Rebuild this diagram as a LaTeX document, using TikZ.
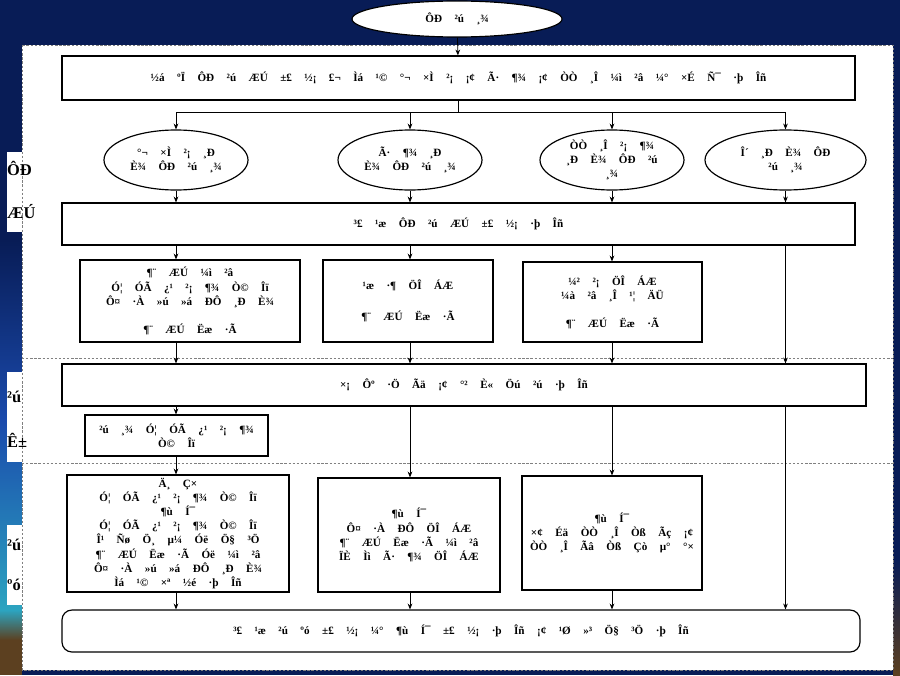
\documentclass[tikz,border=0pt]{standalone}
\usepackage{fontspec}
\setmainfont{Liberation Serif}
\usepackage{xcolor}
\usetikzlibrary{shapes.geometric}
\usetikzlibrary{arrows.meta}

\definecolor{slidenavy}{RGB}{8,28,86}
\definecolor{slideblue}{RGB}{26,74,172}
\definecolor{slideteal}{RGB}{44,164,192}
\definecolor{slidebrown}{RGB}{92,64,32}
\newcommand{\boxfont}{\fontsize{9.5}{12}\selectfont\bfseries\spaceskip=1.12em\relax}
\newcommand{\sidefont}{\fontsize{14}{16}\selectfont\bfseries}

\begin{document}
\begin{tikzpicture}[x=0.03cm,y=-0.03cm,
	box/.style={draw,line width=1pt,fill=white,inner sep=0pt,align=center,font=\boxfont},
	oval/.style={ellipse,draw,line width=1pt,fill=white,inner sep=0pt,align=center,font=\boxfont},
	arr/.style={-{Stealth[length=5pt,width=4pt]},line width=0.7pt},
	sep/.style={gray,line width=0.5pt,dash pattern=on 2pt off 1.5pt},
	side/.style={anchor=west,inner sep=0pt,font=\sidefont}]

	\useasboundingbox (0,0) rectangle (900,675);
	% slide background
	\fill[slidenavy] (0,0) rectangle (900,675);
	\shade[top color=slidenavy,bottom color=slideblue] (0,240) rectangle (22,420);
	\shade[top color=slideblue,bottom color=slideteal] (0,420) rectangle (22,610);
	\shade[top color=slideteal,bottom color=slidebrown] (0,610) rectangle (22,640);
	\fill[slidebrown] (0,640) rectangle (22,675);
	\shade[top color=slidenavy,bottom color=slidebrown] (893,560) rectangle (900,675);

	% white panel
	\draw[sep,fill=white] (22,45) rectangle (893,670);
	\draw[sep] (22,358) -- (893,358);
	\draw[sep] (22,463) -- (893,463);

	% side labels
	\fill[white] (7,152) rectangle (22,232);
	\fill[white] (7,372) rectangle (22,462);
	\fill[white] (7,525) rectangle (22,605);
	\node[side] (s1) at (7,168) {ÔÐ};
	\node[side] (s2) at (7,212) {ÆÚ};
	\node[side] (s3) at (7,397) {²ú};
	\node[side] (s4) at (7,440) {Ê±};
	\node[side] (s5) at (7,545) {²ú};
	\node[side] (s6) at (7,585) {ºó};

	% top
	\node[oval,minimum width=6.3cm,minimum height=1.08cm] (preg) at (457,19) {ÔÐ ²ú ¸¾};
	\node[box,minimum width=23.79cm,minimum height=1.32cm] (screen) at (458.5,78)
		{½á ºÏ ÔÐ ²ú ÆÚ ±£ ½¡ £¬ Ìá ¹© °¬ ×Ì ²¡ ¡¢ Ã· ¶¾ ¡¢ ÒÒ ¸Î ¼ì ²â ¼° ×É Ñ¯ ·þ Îñ};

	% pregnancy
	\node[oval,minimum width=4.32cm,minimum height=1.8cm] (hiv) at (176,160) {°¬ ×Ì ²¡ ¸Ð\\È¾ ÔÐ ²ú ¸¾};
	\node[oval,minimum width=4.32cm,minimum height=1.8cm] (syph) at (410,160) {Ã· ¶¾ ¸Ð\\È¾ ÔÐ ²ú ¸¾};
	\node[oval,minimum width=4.32cm,minimum height=1.8cm] (hbv) at (612,160) {ÒÒ ¸Î ²¡ ¶¾\\¸Ð È¾ ÔÐ ²ú\\¸¾};
	\node[oval,minimum width=4.83cm,minimum height=1.8cm] (neg) at (785.5,160) {Î´ ¸Ð È¾ ÔÐ\\²ú ¸¾};
	\node[box,minimum width=23.79cm,minimum height=1.26cm] (routine) at (458.5,224) {³£ ¹æ ÔÐ ²ú ÆÚ ±£ ½¡ ·þ Îñ};
	\node[box,minimum width=6.6cm,minimum height=2.46cm] (hivcare) at (190,301)
		{¶¨ ÆÚ ¼ì ²â\\Ó¦ ÓÃ ¿¹ ²¡ ¶¾ Ò© Îï\\Ô¤ ·À »ú »á ÐÔ ¸Ð È¾\\[12pt]¶¨ ÆÚ Ëæ ·Ã};
	\node[box,minimum width=5.1cm,minimum height=2.46cm] (syphcare) at (408,301)
		{¹æ ·¶ ÖÎ ÁÆ\\[14pt]¶¨ ÆÚ Ëæ ·Ã};
	\node[box,minimum width=5.37cm,minimum height=2.4cm] (hbvcare) at (612.5,302)
		{¼² ²¡ ÖÎ ÁÆ\\¼à ²â ¸Î ¹¦ ÄÜ\\[12pt]¶¨ ÆÚ Ëæ ·Ã};

	% delivery
	\node[box,minimum width=24.12cm,minimum height=1.26cm] (delivery) at (464,385)
		{×¡ Ôº ·Ö Ãä ¡¢ °² È« Öú ²ú ·þ Îñ};
	\node[box,minimum width=5.49cm,minimum height=1.23cm] (mumdrug) at (176.5,435.5)
		{²ú ¸¾ Ó¦ ÓÃ ¿¹ ²¡ ¶¾\\Ò© Îï};

	% after delivery
	\node[box,minimum width=6.66cm,minimum height=3.51cm] (hivpost) at (178,533.5)
		{Ä¸ Ç×\\Ó¦ ÓÃ ¿¹ ²¡ ¶¾ Ò© Îï\\¶ù Í¯\\Ó¦ ÓÃ ¿¹ ²¡ ¶¾ Ò© Îï\\Î¹ Ñø Ö¸ µ¼ Óë Ö§ ³Ö\\¶¨ ÆÚ Ëæ ·Ã Óë ¼ì ²â\\Ô¤ ·À »ú »á ÐÔ ¸Ð È¾\\Ìá ¹© ×ª ½é ·þ Îñ};
	\node[box,minimum width=5.46cm,minimum height=3.42cm] (syphpost) at (409,535)
		{¶ù Í¯\\Ô¤ ·À ÐÔ ÖÎ ÁÆ\\¶¨ ÆÚ Ëæ ·Ã ¼ì ²â\\ÏÈ Ìì Ã· ¶¾ ÖÎ ÁÆ};
	\node[box,minimum width=5.4cm,minimum height=3.42cm] (hbvpost) at (612,533)
		{¶ù Í¯\\×¢ Éä ÒÒ ¸Î Òß Ãç ¡¢\\ÒÒ ¸Î Ãâ Òß Çò µ° °×};
	\node[box,rounded corners=0.3cm,minimum width=23.94cm,minimum height=1.26cm] (postnatal) at (461,631)
		{³£ ¹æ ²ú ºó ±£ ½¡ ¼° ¶ù Í¯ ±£ ½¡ ·þ Îñ ¡¢ ¹Ø »³ Ö§ ³Ö ·þ Îñ};

	% connectors
	\draw[arr] (preg) -- (screen);
	\draw[line width=0.7pt] (screen.south) -- ++(0,12) coordinate (fork);
	\foreach \n in {hiv,syph,hbv,neg} {
		\draw[arr] (fork) -| (\n.north);
		\draw[arr] (\n.south) -- (\n.south |- routine.north);
	}
	\draw[arr] (routine.south -| hiv) -- (hivcare.north -| hiv);
	\draw[arr] (routine.south -| syph) -- (syphcare.north -| syph);
	\draw[arr] (routine.south -| hbv) -- (hbvcare.north -| hbv);
	\draw[arr] (routine.south -| neg) -- (delivery.north -| neg);
	\draw[arr] (hivcare.south -| hiv) -- (delivery.north -| hiv);
	\draw[arr] (syphcare.south -| syph) -- (delivery.north -| syph);
	\draw[arr] (hbvcare.south -| hbv) -- (delivery.north -| hbv);
	\draw[arr] (delivery.south -| hiv) -- (mumdrug.north -| hiv);
	\draw[arr] (delivery.south -| syph) -- (syphpost.north -| syph);
	\draw[arr] (delivery.south -| hbv) -- (hbvpost.north -| hbv);
	\draw[arr] (mumdrug.south -| hiv) -- (hivpost.north -| hiv);
	\draw[arr] (hivpost.south -| hiv) -- (postnatal.north -| hiv);
	\draw[arr] (syphpost.south -| syph) -- (postnatal.north -| syph);
	\draw[arr] (hbvpost.south -| hbv) -- (postnatal.north -| hbv);
	\draw[arr] (delivery.south -| neg) -- (postnatal.north -| neg);

\end{tikzpicture}
\end{document}
